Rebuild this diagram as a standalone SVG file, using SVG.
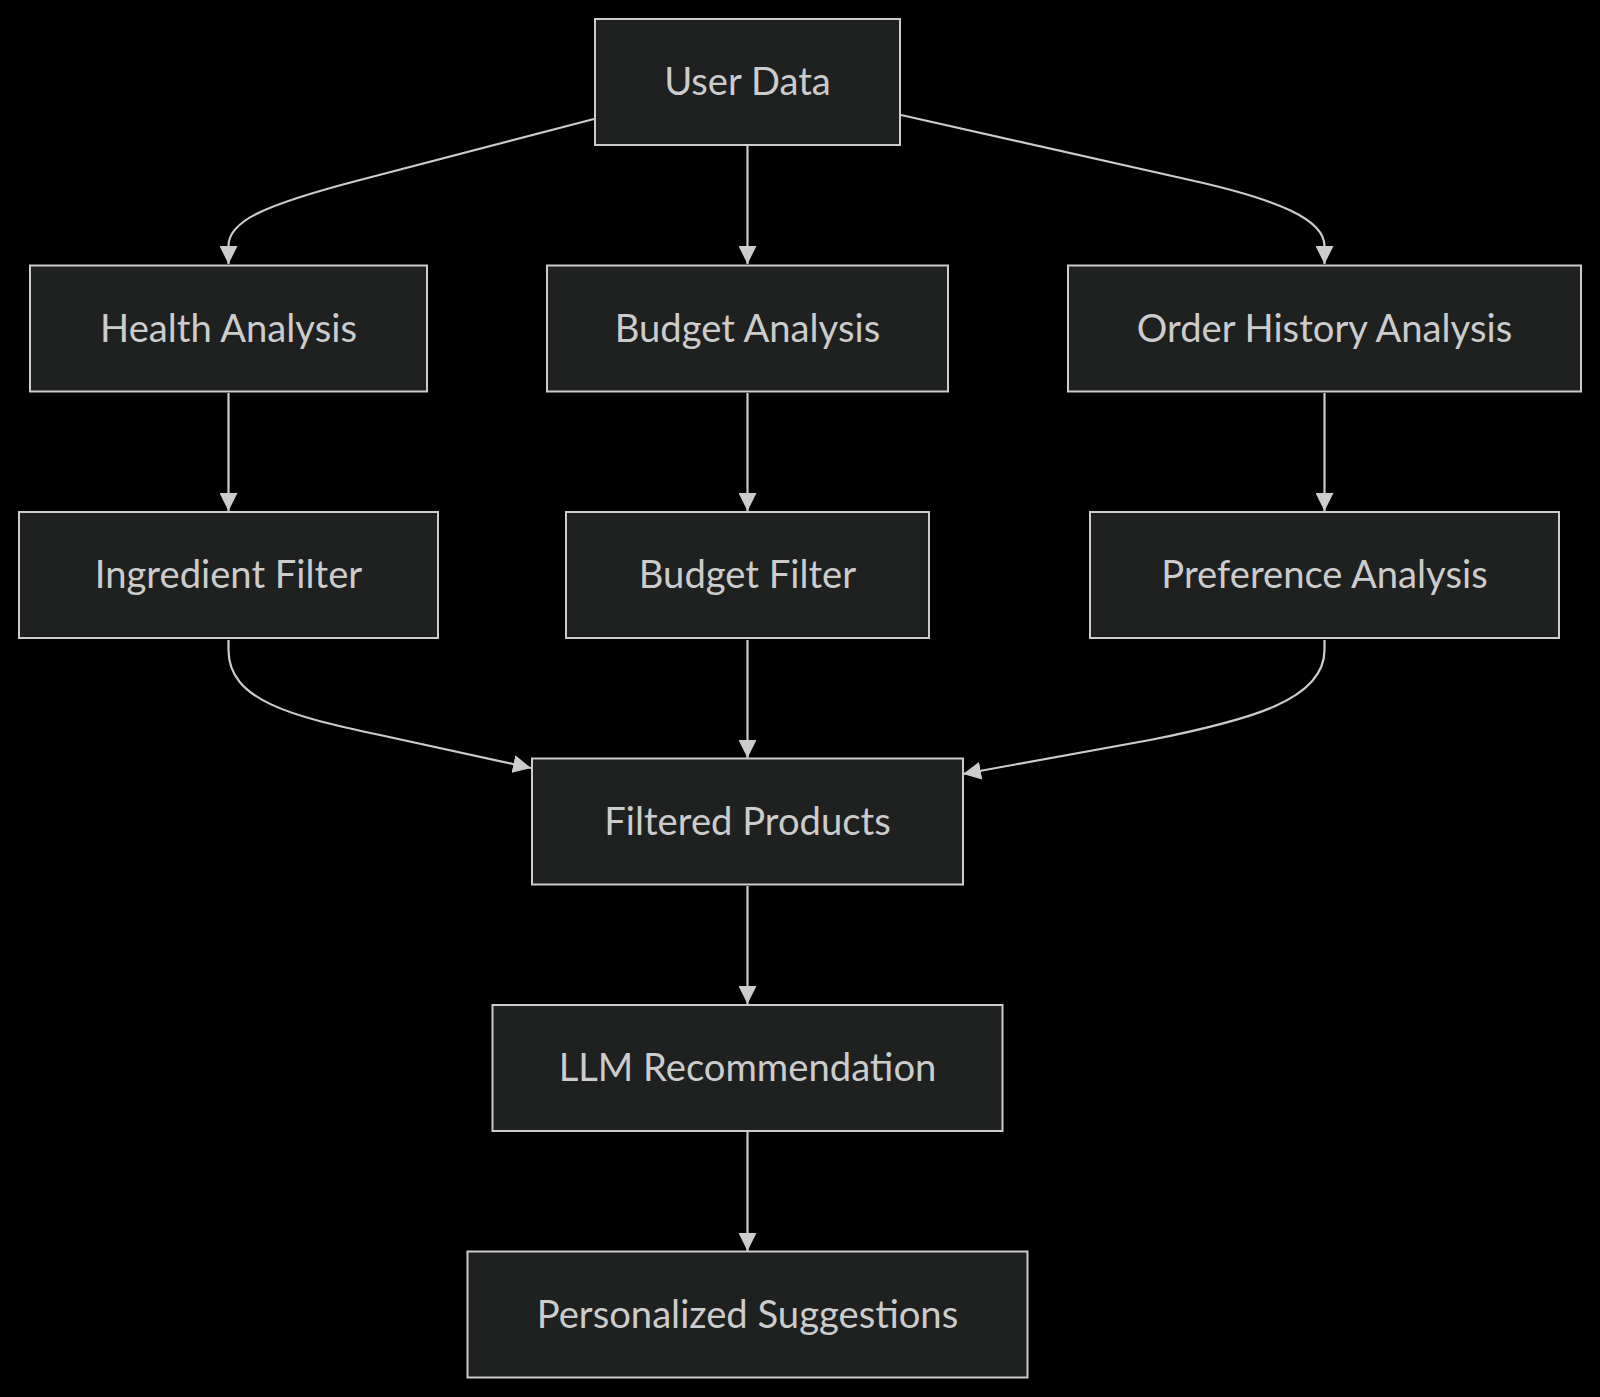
<svg xmlns="http://www.w3.org/2000/svg" width="1600" height="1397" viewBox="0 0 1600 1397">
<style>
.node rect{fill:#1f2020;stroke:#cccccc;stroke-width:2}
.node text{fill:#cccccc;font-family:"Lato","Open Sans",sans-serif;font-size:38.2px;text-anchor:middle}
.edge{fill:none;stroke:#cccccc;stroke-width:2.2}
</style>
<defs>
<marker id="arrow" viewBox="0 0 10 10" refX="10" refY="5" markerUnits="userSpaceOnUse" markerWidth="18" markerHeight="18" orient="auto">
<path d="M0,0 L10,5 L0,10 z" fill="#cccccc"/>
</marker>
</defs>
<rect width="1600" height="1397" fill="#000000"/>
<g id="edges">
<path class="edge" marker-end="url(#arrow)" d="M594,119 L360,180 C260,206 228.5,222 228.5,246 L228.5,264"/>
<path class="edge" marker-end="url(#arrow)" d="M747.5,146 L747.5,264"/>
<path class="edge" marker-end="url(#arrow)" d="M901,115 L1190,180 C1280,200 1324.5,220 1324.5,246 L1324.5,264"/>
<path class="edge" marker-end="url(#arrow)" d="M228.5,393 L228.5,511"/>
<path class="edge" marker-end="url(#arrow)" d="M747.5,393 L747.5,511"/>
<path class="edge" marker-end="url(#arrow)" d="M1324.5,393 L1324.5,511"/>
<path class="edge" marker-end="url(#arrow)" d="M228.5,640 L228.5,650 C228.5,700 290,716 380,735 L531,768"/>
<path class="edge" marker-end="url(#arrow)" d="M747.5,640 L747.5,758"/>
<path class="edge" marker-end="url(#arrow)" d="M1324.5,640 L1324.5,650 C1324.5,700 1250,720 1150,740 L963,774"/>
<path class="edge" marker-end="url(#arrow)" d="M747.5,886 L747.5,1004"/>
<path class="edge" marker-end="url(#arrow)" d="M747.5,1132 L747.5,1251"/>
</g>
<g id="user-data" class="node"><rect x="595" y="19" width="305" height="126"/><text x="747.5" y="95">User Data</text></g>
<g id="health-analysis" class="node"><rect x="30" y="265.5" width="397" height="126"/><text x="228.5" y="341.5">Health Analysis</text></g>
<g id="budget-analysis" class="node"><rect x="547" y="265.5" width="401" height="126"/><text x="747.5" y="341.5">Budget Analysis</text></g>
<g id="order-history-analysis" class="node"><rect x="1068" y="265.5" width="513" height="126"/><text x="1324.5" y="341.5">Order History Analysis</text></g>
<g id="ingredient-filter" class="node"><rect x="19" y="512" width="419" height="126"/><text x="228.5" y="588">Ingredient Filter</text></g>
<g id="budget-filter" class="node"><rect x="566" y="512" width="363" height="126"/><text x="747.5" y="588">Budget Filter</text></g>
<g id="preference-analysis" class="node"><rect x="1090" y="512" width="469" height="126"/><text x="1324.5" y="588">Preference Analysis</text></g>
<g id="filtered-products" class="node"><rect x="532" y="758.5" width="431" height="126"/><text x="747.5" y="834.5">Filtered Products</text></g>
<g id="llm-recommendation" class="node"><rect x="492.5" y="1005" width="510" height="126"/><text x="747.5" y="1081">LLM Recommendation</text></g>
<g id="personalized-suggestions" class="node"><rect x="467.5" y="1251.5" width="560" height="126"/><text x="747.5" y="1327.5">Personalized Suggestions</text></g>
</svg>
